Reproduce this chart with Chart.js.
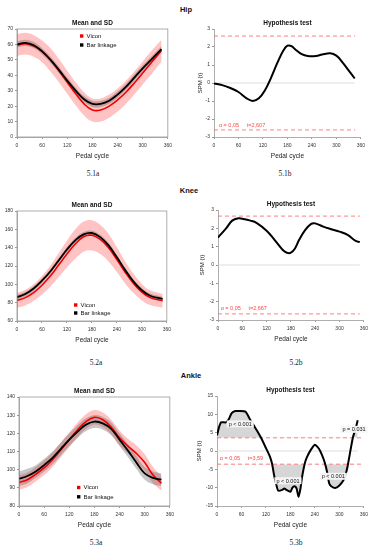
<!DOCTYPE html>
<html>
<head>
<meta charset="utf-8">
<script src="https://cdn.jsdelivr.net/npm/chart.js@4.4.1/dist/chart.umd.min.js"></script>
<style>
body{margin:0;background:#fff;width:379px;height:550px;position:relative;overflow:hidden;font-family:"Liberation Sans",Arial,sans-serif}
canvas{position:absolute}
.lbl{position:absolute;width:60px;text-align:center;line-height:10px}
.sec{font-weight:bold;font-size:7.5px;color:#111}
.cap{font-family:"Liberation Serif","Times New Roman",serif;font-size:7.5px;color:#222}
</style>
</head>
<body>
<div class="lbl sec" style="left:156px;top:5px">Hip</div>
<div class="lbl sec" style="left:159px;top:186px">Knee</div>
<div class="lbl sec" style="left:161px;top:371px">Ankle</div>
<div class="lbl cap" style="left:63px;top:169px">5.1a</div>
<div class="lbl cap" style="left:255px;top:169px">5.1b</div>
<div class="lbl cap" style="left:66px;top:358px">5.2a</div>
<div class="lbl cap" style="left:266px;top:358px">5.2b</div>
<div class="lbl cap" style="left:66px;top:538px">5.3a</div>
<div class="lbl cap" style="left:266px;top:538px">5.3b</div>

<canvas id="hipMean" width="176" height="144" style="left:0;top:17px"></canvas>
<canvas id="hipSpm" width="175" height="144" style="left:194px;top:17px"></canvas>
<canvas id="kneeMean" width="175" height="146" style="left:0;top:199px"></canvas>
<canvas id="kneeSpm" width="176" height="146" style="left:196px;top:198px"></canvas>
<canvas id="ankleMean" width="178" height="145" style="left:0;top:385px"></canvas>
<canvas id="ankleSpm" width="179" height="146" style="left:193px;top:384px"></canvas>

<script>
// ---- data ----
const cycleHip = [0, 20, 40, 60, 80, 100, 120, 140, 160, 180, 200, 220, 240, 260, 280, 300, 320, 345];
const hipViconMean = [59.5, 60.5, 59, 55.5, 50, 43, 35.5, 28, 21.5, 17.5, 17.5, 20, 24, 29, 35, 41.5, 48, 56];
const hipViconSd = [7, 7, 7, 7, 7.5, 7.5, 7.5, 7.5, 7.5, 7.5, 7.5, 7.5, 7.5, 7.5, 7.5, 7.5, 7.5, 7];
const hipBarMean = [60, 61, 59.5, 55.5, 50, 43.5, 36.5, 30, 24.5, 21.5, 21.5, 23.5, 27.5, 32.5, 38.5, 44.5, 50, 57];
const hipBarSd = [2, 2, 2, 2, 2, 2, 2, 2, 2, 2, 2, 2, 2, 2, 2, 2, 2, 2];

const cycleKnee = [0, 20, 40, 60, 80, 100, 120, 140, 160, 180, 200, 220, 240, 260, 280, 300, 320, 350];
const kneeViconMean = [82.5, 85.5, 91, 99, 109, 121, 133, 144, 152, 153.5, 149, 140, 127, 113, 101, 91.5, 85.5, 82];
const kneeViconSd = [8, 8.5, 9, 10, 11.5, 13, 14.5, 16, 16.5, 16.5, 16, 15, 13.5, 12, 10.5, 9, 8, 7.5];
const kneeBarMean = [86, 89.5, 95.5, 104, 114, 126, 138, 148, 154.5, 156, 151.5, 142.5, 129.5, 115.5, 103, 93.5, 87.5, 84];
const kneeBarSd = [2.5, 2.5, 2.5, 2.5, 2.5, 2.5, 2.5, 2.5, 2.5, 2.5, 2.5, 2.5, 2.5, 2.5, 2.5, 2.5, 2.5, 2.5];

const cycleAnkle = [0, 20, 40, 60, 80, 100, 120, 140, 160, 180, 200, 220, 240, 260, 280, 300, 320, 340];
const ankleViconMean = [93, 94.5, 97.5, 101, 105.5, 111, 116.5, 122, 126.5, 128.8, 127.5, 123.5, 117.5, 113, 109, 104, 97, 92.5];
const ankleViconSd = [4, 4, 4, 4, 4, 4, 4, 4, 4, 4, 4, 4, 4, 4, 4.5, 4.5, 4.5, 4];
const ankleBarMean = [95, 96.5, 99, 102.5, 106.5, 111.5, 116.5, 121, 124.8, 126.5, 125.5, 122.5, 116.5, 110.5, 104, 98, 95.5, 94.5];
const ankleBarSd = [4, 4, 3.5, 3.5, 3.5, 3.5, 3.5, 3.5, 3.5, 3.5, 3.5, 3.5, 3.5, 3.5, 3.5, 3.5, 3.5, 3.5];

const spmHipX = [0, 20, 40, 60, 80, 95, 110, 125, 140, 155, 170, 180, 190, 200, 215, 230, 250, 265, 285, 300, 315, 330, 345];
const spmHipT = [-0.03, -0.12, -0.28, -0.5, -0.85, -1.0, -0.85, -0.4, 0.3, 1.1, 1.8, 2.07, 2.05, 1.85, 1.6, 1.5, 1.5, 1.58, 1.65, 1.52, 1.15, 0.7, 0.25];
const hipThreshold = 2.607;

const spmKneeX = [0, 20, 35, 50, 60, 80, 95, 120, 140, 160, 170, 180, 190, 200, 215, 230, 240, 260, 280, 300, 320, 340, 350];
const spmKneeT = [1.5, 2.0, 2.42, 2.55, 2.52, 2.42, 2.3, 1.87, 1.36, 0.82, 0.67, 0.67, 0.9, 1.36, 1.9, 2.24, 2.27, 2.09, 1.95, 1.82, 1.64, 1.31, 1.25];
const kneeThreshold = 2.667;

const spmAnkleX = [0, 5, 10, 22, 28, 36, 45, 55, 70, 80, 90, 100, 108, 120, 130, 135, 140, 145, 150, 160, 165, 170, 180, 185, 190, 195, 200, 205, 208, 215, 220, 230, 240, 250, 260, 265, 270, 275, 280, 290, 300, 310, 315, 320, 333, 340, 345];
const spmAnkleT = [4.2, 6.5, 7.8, 7.8, 8.5, 10.3, 10.9, 10.9, 10.7, 8.8, 7, 5.2, 3.6, 0.8, -1.6, -3.5, -6.6, -9, -10.8, -10.6, -10.2, -10.6, -11.1, -10, -9.6, -10.2, -12.5, -10, -7.5, -3.5, -1.8, 0.3, 1.7, 0.6, -1.8, -3.5, -5.8, -8.8, -9.6, -10.1, -9.4, -8, -6.5, -4.3, 3.6, 6.2, 8.4];
const ankleThreshold = 3.59;

const FONT = '"Liberation Sans", Arial, sans-serif';
Chart.defaults.font.family = FONT;
Chart.defaults.color = '#333';

const RED = 'rgb(240,0,0)';
const RED_BAND = 'rgba(255,40,40,0.28)';
const GREY_BAND = 'rgba(70,70,70,0.3)';

function pts(xs, ys) { return xs.map((x, i) => ({x: x, y: ys[i]})); }
function band(xs, m, s, sign) { return xs.map((x, i) => ({x: x, y: m[i] + sign * s[i]})); }

// title centred over the plot area
const panelTitle = {
  id: 'panelTitle',
  afterDraw(chart, args, opts) {
    const {ctx, chartArea} = chart;
    ctx.save();
    ctx.font = 'bold 6.5px ' + FONT;
    ctx.fillStyle = '#111';
    ctx.textAlign = 'center';
    ctx.textBaseline = 'middle';
    ctx.fillText(opts.text, (chartArea.left + chartArea.right) / 2, chartArea.top - 5.5);
    ctx.restore();
  }
};

// matlab style box round the axes
const axesBox = {
  id: 'axesBox',
  afterDraw(chart, args, opts) {
    if (!opts.on) return;
    const a = chart.chartArea;
    const ctx = chart.ctx;
    ctx.save();
    ctx.strokeStyle = '#999';
    ctx.lineWidth = 0.8;
    ctx.strokeRect(a.left, a.top, a.right - a.left, a.bottom - a.top);
    ctx.restore();
  }
};

const miniLegend = {
  id: 'miniLegend',
  afterDraw(chart, args, opts) {
    if (!opts.entries) return;
    const ctx = chart.ctx;
    const a = chart.chartArea;
    ctx.save();
    ctx.font = '6px ' + FONT;
    ctx.textBaseline = 'middle';
    opts.entries.forEach((lab, i) => {
      const ds = chart.data.datasets.find(d => d.label === lab);
      const x = a.left + opts.dx;
      const y = a.top + opts.dy + i * opts.gap;
      ctx.fillStyle = ds.borderColor;
      ctx.fillRect(x, y - 1.7, 3.4, 3.4);
      ctx.fillStyle = '#111';
      ctx.fillText(lab, x + 6.5, y + 0.3);
    });
    ctx.restore();
  }
};

const notes = {
  id: 'notes',
  afterDatasetsDraw(chart, args, opts) {
    if (!opts.items) return;
    const ctx = chart.ctx;
    const xs = chart.scales.x, ys = chart.scales.y;
    ctx.save();
    opts.items.forEach(n => {
      const px = xs.getPixelForValue(n.x);
      const py = ys.getPixelForValue(n.y);
      ctx.font = (n.size || 5.5) + 'px ' + FONT;
      ctx.textBaseline = 'middle';
      if (n.boxed) {
        const w = ctx.measureText(n.text).width;
        ctx.fillStyle = 'rgba(246,246,246,0.96)';
        ctx.fillRect(px - w / 2 - 2, py - 3.5, w + 4, 7);
        ctx.textAlign = 'center';
      } else {
        ctx.textAlign = 'left';
      }
      ctx.fillStyle = n.color || '#111';
      ctx.fillText(n.text, px, py + 0.3);
    });
    ctx.restore();
  }
};

function xScale() {
  return {
    type: 'linear', min: 0, max: 360,
    ticks: {stepSize: 60, font: {size: 5}, padding: 4, maxRotation: 0, color: '#333'},
    grid: {drawOnChartArea: false, tickLength: 2, color: '#999'},
    border: {color: '#999', width: 0.8},
    title: {display: true, text: 'Pedal cycle', font: {size: 6.5, lineHeight: 1}, padding: {top: 0, bottom: 2}, color: '#222'},
    afterFit: s => { s.height = 24; }
  };
}

function yScale(min, max, step, w, title) {
  return {
    type: 'linear', min: min, max: max,
    ticks: {stepSize: step, font: {size: 5}, padding: 2, color: '#333'},
    grid: {drawOnChartArea: false, tickLength: 2, color: '#999'},
    border: {color: '#999', width: 0.8},
    title: {display: !!title, text: title || '', font: {size: 6, lineHeight: 1}, padding: {top: 3, bottom: 0}, color: '#222'},
    afterFit: s => { s.width = w; }
  };
}

function meanChart(id, c) {
  const datasets = [
    {label: 'Bar linkage', data: pts(c.x, c.bMean), borderColor: '#000', borderWidth: 1.8, pointRadius: 0, tension: 0.4, fill: false},
    {label: 'Vicon', data: pts(c.x, c.vMean), borderColor: RED, borderWidth: 1.6, pointRadius: 0, tension: 0.4, fill: false},
    {label: '', data: band(c.x, c.bMean, c.bSd, 1), borderWidth: 0, pointRadius: 0, tension: 0.4, fill: false},
    {label: '', data: band(c.x, c.bMean, c.bSd, -1), borderWidth: 0, pointRadius: 0, tension: 0.4, fill: '-1', backgroundColor: GREY_BAND},
    {label: '', data: band(c.x, c.vMean, c.vSd, 1), borderWidth: 0, pointRadius: 0, tension: 0.4, fill: false},
    {label: '', data: band(c.x, c.vMean, c.vSd, -1), borderWidth: 0, pointRadius: 0, tension: 0.4, fill: '-1', backgroundColor: RED_BAND}
  ];
  return new Chart(document.getElementById(id), {
    type: 'line',
    data: {datasets: datasets},
    options: {
      responsive: false, animation: false, devicePixelRatio: 1,
      layout: {padding: {top: 12, right: c.padR, left: 0, bottom: 0}},
      scales: {x: xScale(), y: yScale(c.yMin, c.yMax, c.yStep, c.yW)},
      plugins: {
        legend: {display: false}, tooltip: {enabled: false}, title: {display: false},
        filler: {drawTime: 'beforeDatasetsDraw'},
        panelTitle: {text: 'Mean and SD'},
        axesBox: {on: true},
        miniLegend: {entries: ['Vicon', 'Bar linkage'], dx: c.legDx, dy: c.legDy, gap: c.legGap}
      }
    },
    plugins: [panelTitle, axesBox, miniLegend]
  });
}

function spmChart(id, c) {
  const xEnd = c.x[c.x.length - 1];
  const datasets = [
    {label: 'SPM', data: pts(c.x, c.t), borderColor: '#000', borderWidth: 2, pointRadius: 0, tension: c.tension,
     fill: {target: {value: c.thr}, above: 'rgb(214,214,214)', below: 'rgba(0,0,0,0)'}},
    {label: '', data: pts(c.x, c.t), borderWidth: 0, borderColor: 'rgba(0,0,0,0)', pointRadius: 0, tension: c.tension,
     fill: {target: {value: -c.thr}, above: 'rgba(0,0,0,0)', below: 'rgb(214,214,214)'}},
    {label: '', data: [{x: 0, y: c.thr}, {x: c.thrEnd, y: c.thr}], borderColor: 'rgba(255,90,90,0.85)', borderWidth: 0.9, borderDash: [4, 3], pointRadius: 0, fill: false},
    {label: '', data: [{x: 0, y: -c.thr}, {x: c.thrEnd, y: -c.thr}], borderColor: 'rgba(255,90,90,0.85)', borderWidth: 0.9, borderDash: [4, 3], pointRadius: 0, fill: false},
    {label: '', data: [{x: 0, y: 0}, {x: xEnd, y: 0}], borderColor: '#d4d4d4', borderWidth: 0.8, pointRadius: 0, fill: false}
  ];
  return new Chart(document.getElementById(id), {
    type: 'line',
    data: {datasets: datasets},
    options: {
      responsive: false, animation: false, devicePixelRatio: 1,
      layout: {padding: {top: 12, right: c.padR, left: 0, bottom: 0}},
      scales: {x: xScale(), y: yScale(c.yMin, c.yMax, c.yStep, c.yW, 'SPM {t}')},
      plugins: {
        legend: {display: false}, tooltip: {enabled: false}, title: {display: false},
        filler: {drawTime: 'beforeDatasetsDraw'},
        panelTitle: {text: 'Hypothesis test'},
        axesBox: {on: false},
        notes: {items: c.notes}
      }
    },
    plugins: [panelTitle, notes]
  });
}

meanChart('hipMean', {x: cycleHip, vMean: hipViconMean, vSd: hipViconSd, bMean: hipBarMean, bSd: hipBarSd,
  yMin: 0, yMax: 70, yStep: 10, yW: 17, padR: 6, legDx: 63, legDy: 7, legGap: 9});
meanChart('kneeMean', {x: cycleKnee, vMean: kneeViconMean, vSd: kneeViconSd, bMean: kneeBarMean, bSd: kneeBarSd,
  yMin: 60, yMax: 180, yStep: 20, yW: 17, padR: 6, legDx: 57, legDy: 94, legGap: 8});
meanChart('ankleMean', {x: cycleAnkle, vMean: ankleViconMean, vSd: ankleViconSd, bMean: ankleBarMean, bSd: ankleBarSd,
  yMin: 80, yMax: 140, yStep: 10, yW: 19, padR: 6, legDx: 58, legDy: 90.5, legGap: 9.3});

spmChart('hipSpm', {x: spmHipX, t: spmHipT, thr: hipThreshold, thrEnd: 346, tension: 0.4,
  yMin: -3, yMax: 3, yStep: 1, yW: 20, padR: 4,
  notes: [{x: 12, y: -2.33, text: 'α = 0,05     t=2,607', color: 'rgb(255,70,70)'}]});
spmChart('kneeSpm', {x: spmKneeX, t: spmKneeT, thr: kneeThreshold, thrEnd: 350, tension: 0.4,
  yMin: -3, yMax: 3, yStep: 1, yW: 22, padR: 4,
  notes: [{x: 6.5, y: -2.38, text: 'α = 0,05     t=2,667', color: 'rgb(255,70,70)'}]});
spmChart('ankleSpm', {x: spmAnkleX, t: spmAnkleT, thr: ankleThreshold, thrEnd: 360, tension: 0.2,
  yMin: -15, yMax: 15, yStep: 5, yW: 24, padR: 4,
  notes: [
    {x: 7, y: -2.0, text: 'α = 0,05     t=3,59', color: 'rgb(255,70,70)'},
    {x: 57, y: 7.4, text: 'p < 0.001', boxed: true},
    {x: 174, y: -8.1, text: 'p < 0.001', boxed: true},
    {x: 285, y: -6.9, text: 'p < 0.001', boxed: true},
    {x: 336, y: 5.9, text: 'p = 0.031', boxed: true}
  ]});
</script>
</body>
</html>
